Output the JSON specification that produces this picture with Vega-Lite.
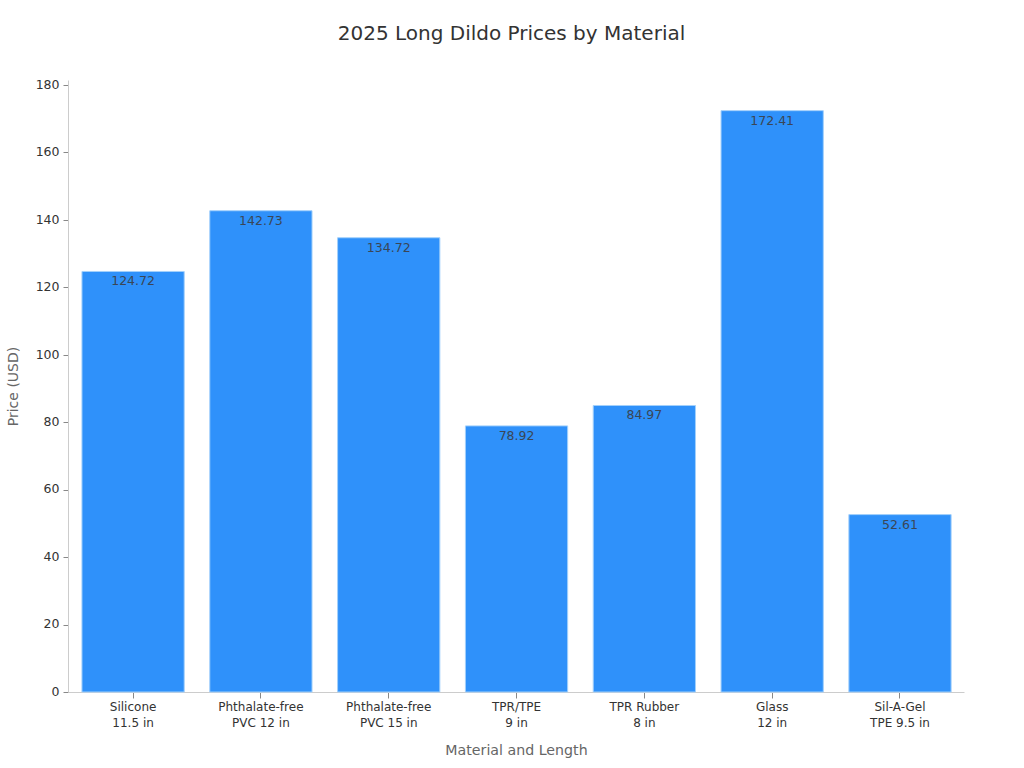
{"$schema":"https://vega.github.io/schema/vega-lite/v6.json","width":896,"height":612,"padding":{"left":68,"top":80,"right":60,"bottom":76},"autosize":"none","background":"white","title":{"text":"2025 Long Dildo Prices by Material","font":"DejaVu Sans","fontSize":20,"fontWeight":"normal","color":"#333333","anchor":"middle","offset":34,"dx":-4.5},"config":{"view":{"stroke":null},"font":"DejaVu Sans"},"data":{"values":[{"item":"Silicone|11.5 in","price":124.72},{"item":"Phthalate-free|PVC 12 in","price":142.73},{"item":"Phthalate-free|PVC 15 in","price":134.72},{"item":"TPR/TPE|9 in","price":78.92},{"item":"TPR Rubber|8 in","price":84.97},{"item":"Glass|12 in","price":172.41},{"item":"Sil-A-Gel|TPE 9.5 in","price":52.61}]},"encoding":{"x":{"field":"item","type":"nominal","sort":null,"scale":{"paddingInner":0.2,"paddingOuter":0.105,"align":0.52},"axis":{"title":"Material and Length","titleFont":"DejaVu Sans","titleFontSize":14.2,"titleFontWeight":"normal","titleColor":"#666666","titlePadding":15,"labelExpr":"split(datum.label,'|')","labelAngle":0,"labelFontSize":12,"labelColor":"#333333","labelPadding":3,"labelLineHeight":16,"domainColor":"#cccccc","tickColor":"#888888","tickSize":6}},"y":{"field":"price","type":"quantitative","scale":{"domain":[0,181.5],"nice":false},"axis":{"title":"Price (USD)","titleFont":"DejaVu Sans","titleFontSize":14,"titleFontWeight":"normal","titleColor":"#666666","titlePadding":15,"values":[0,20,40,60,80,100,120,140,160,180],"labelFontSize":12.5,"labelColor":"#333333","labelPadding":4,"labelOffset":-0.7,"grid":false,"domainColor":"#cccccc","tickColor":"#888888","tickSize":5}}},"layer":[{"mark":{"type":"bar","color":"#2f91fa","stroke":"#a3d0fb","strokeWidth":1}},{"mark":{"type":"text","baseline":"top","dy":4,"fontSize":12.5,"color":"#3a4656"},"encoding":{"text":{"field":"price","type":"quantitative","format":".2f"}}}]}
